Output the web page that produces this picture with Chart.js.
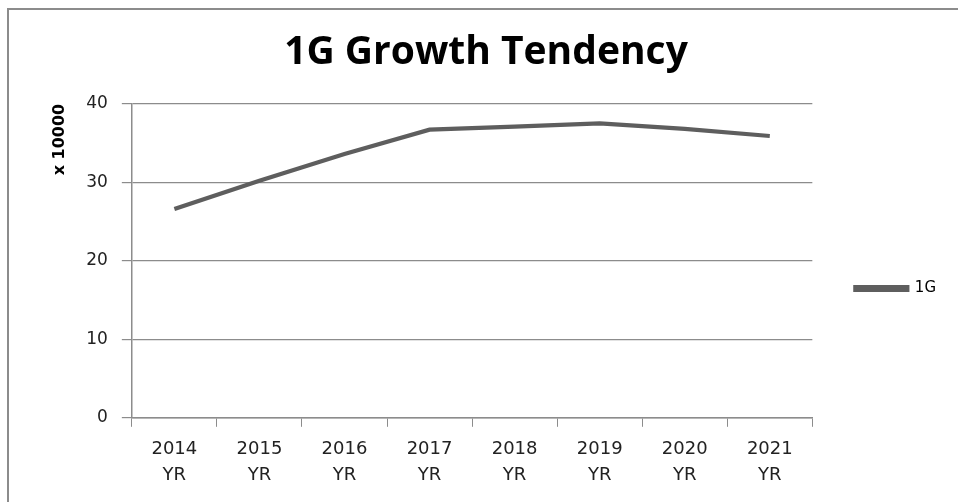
<!DOCTYPE html>
<html>
<head>
<meta charset="utf-8">
<script src="https://cdn.jsdelivr.net/npm/chart.js@4.4.1/dist/chart.umd.min.js"></script>
<style>
  html, body { margin: 0; padding: 0; background: #fff; }
  #wrap { position: relative; width: 958px; height: 502px; overflow: hidden; }
  #frame { position: absolute; left: 7px; top: 8px; width: 1000px; height: 600px; border-left: 2px solid #8c8c8c; border-top: 2px solid #8c8c8c; }
  #cv { position: absolute; left: 0; top: 0; }
</style>
</head>
<body>
<div id="wrap">
  <div id="frame"></div>
  <canvas id="cv" width="958" height="502"></canvas>
</div>
<script>
    // chart data
    let years = ['2014','2015','2016','2017','2018','2019','2020','2021'];
    let values1G = [26.6, 30.2, 33.6, 36.7, 37.1, 37.5, 36.8, 35.9];
    let yTicks = [0, 10, 20, 30, 40];

    let ctx = document.getElementById('cv');
    let lineColor = '#5e5e5e';
    let gridColor = '#8c8c8c';

    let myChart = new Chart(ctx, {
        type: 'line',
        data: {
            labels: years.map(y => [y, 'YR']),
            datasets: [{
                label: '1G',
                data: values1G,
                borderColor: lineColor,
                backgroundColor: lineColor,
                borderWidth: 4.2,
                pointRadius: 0,
                tension: 0
            }]
        },
        options: {
            responsive: false,
            animation: false,
            layout: { padding: { left: 26, right: 12, top: 20, bottom: 5 } },
            plugins: {
                title: {
                    display: true,
                    text: '1G Growth Tendency',
                    color: '#000',
                    font: { family: 'Open Sans', size: 39, weight: 'bold' },
                    padding: { top: 9, bottom: 28 }
                },
                legend: {
                    position: 'right',
                    // empty title pushes the legend item down, like the original
                    title: {
                        display: true,
                        text: '',
                        font: { size: 10, lineHeight: 1 },
                        padding: { top: 25, bottom: 25 }
                    },
                    labels: {
                        boxWidth: 52,
                        boxHeight: 3,
                        color: '#000',
                        font: { family: 'DejaVu Sans', size: 15 },
                        padding: 43
                    }
                },
                tooltip: { enabled: false }
            },
            scales: {
                x: {
                    offset: true,
                    grid: {
                        offset: true,
                        drawOnChartArea: false,
                        drawTicks: true,
                        tickLength: 9,
                        color: gridColor
                    },
                    border: { color: gridColor, width: 1.5 },
                    ticks: {
                        color: '#222',
                        font: { family: 'DejaVu Sans', size: 18, lineHeight: 1.45 },
                        maxRotation: 0,
                        padding: 9
                    }
                },
                y: {
                    min: 0,
                    max: 40,
                    afterBuildTicks: axis => { axis.ticks = yTicks.map(v => ({ value: v })); },
                    grid: {
                        color: gridColor,
                        lineWidth: 1.2,
                        tickLength: 10
                    },
                    border: { color: gridColor, width: 1.5 },
                    ticks: {
                        color: '#222',
                        font: { family: 'DejaVu Sans', size: 17 },
                        padding: 14
                    },
                    title: {
                        display: true,
                        text: 'x 10000',
                        align: 'end',
                        color: '#000',
                        font: { family: 'DejaVu Sans', size: 16, weight: 'bold' },
                        padding: { top: 24, bottom: 3 }
                    }
                }
            }
        }
    });
</script>
</body>
</html>
